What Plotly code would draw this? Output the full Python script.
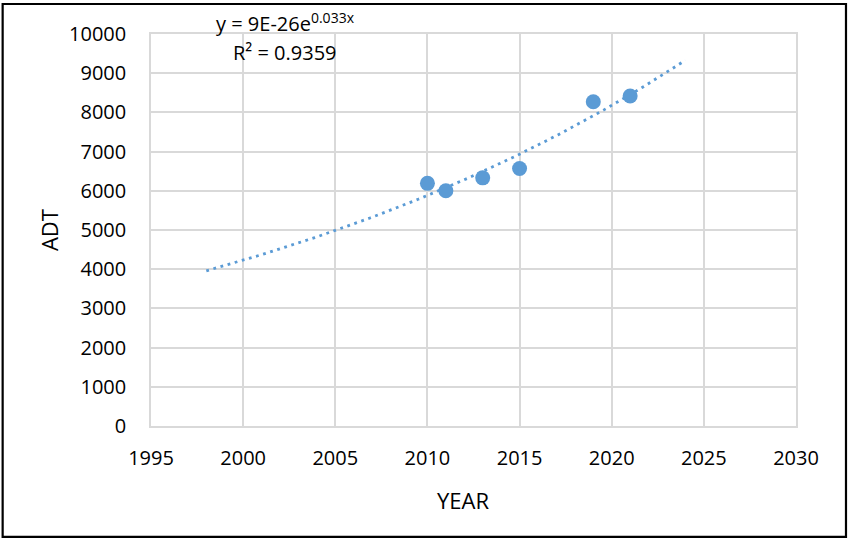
import numpy as np
import plotly.graph_objects as go

# Observed average daily traffic by year
years = [2010, 2011, 2013, 2015, 2019, 2021]
adt = [6190, 6000, 6330, 6570, 8270, 8420]

# Exponential trendline range
trend_start, trend_end = 1998, 2024
trend_label = "y = 9E-26e<sup>0.033x</sup>"
r2_label = "R² = 0.9359"

x_ticks = [1995, 2000, 2005, 2010, 2015, 2020, 2025, 2030]
y_ticks = list(range(0, 10001, 1000))
y_tick_text = [str(v) for v in y_ticks]

BLUE = "#5B9BD5"
GRID = "#D9D9D9"
FONT = "Open Sans"

# least-squares fit of ln(ADT) against year
slope, intercept = np.polyfit(years, np.log(adt), 1)
tx = np.linspace(trend_start, trend_end, 200)
ty = np.exp(intercept + slope * tx)

fig = go.Figure()
fig.add_trace(go.Scatter(
    x=tx, y=ty, mode="lines",
    line=dict(color=BLUE, width=2.8, dash="2.8px,4.6px"),
    hoverinfo="skip", showlegend=False,
))
fig.add_trace(go.Scatter(
    x=years, y=adt, mode="markers",
    marker=dict(color=BLUE, size=15, line=dict(width=0)),
    showlegend=False,
))

axis_common = dict(
    showgrid=True, gridcolor=GRID, gridwidth=1.5,
    showline=True, linecolor=GRID, linewidth=1.5, mirror=True,
    zeroline=False, ticks="",
    tickfont=dict(family=FONT, size=20, color="#000000"),
)

fig.update_xaxes(range=[1995, 2030], tickvals=x_ticks,
                 ticklabelstandoff=13, **axis_common)
fig.update_yaxes(range=[0, 10000], tickvals=y_ticks, ticktext=y_tick_text,
                 ticklabelstandoff=19, **axis_common)

title_font = dict(family=FONT, size=22, color="#000000")
fig.add_annotation(xref="paper", yref="paper", x=-0.158, y=0.5,
                   xanchor="center", yanchor="middle", textangle=-90,
                   text="ADT", showarrow=False, font=title_font)
fig.add_annotation(xref="paper", yref="paper", x=0.4837, y=-0.189,
                   xanchor="center", yanchor="middle",
                   text="YEAR", showarrow=False, font=title_font)

note_font = dict(family=FONT, size=20, color="#000000")
fig.add_annotation(xref="paper", yref="paper", x=0.208, y=1.03,
                   xanchor="center", yanchor="middle",
                   text=trend_label, showarrow=False, font=note_font)
fig.add_annotation(xref="paper", yref="paper", x=0.208, y=0.954,
                   xanchor="center", yanchor="middle",
                   text=r2_label, showarrow=False, font=note_font)

# outer chart frame
fig.add_shape(type="rect", xref="paper", yref="paper",
              x0=-0.230, x1=1.0775, y0=-0.283, y1=1.0765,
              line=dict(color="#000000", width=2.2), layer="above")

fig.update_layout(
    width=848, height=540,
    margin=dict(l=151, r=52, t=34, b=114),
    paper_bgcolor="#FFFFFF", plot_bgcolor="#FFFFFF",
)

fig.write_html("out.html")
